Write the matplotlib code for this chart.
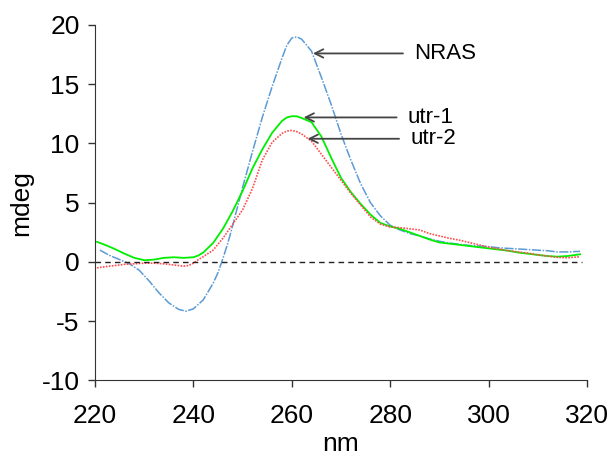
import matplotlib
matplotlib.use("Agg")
import matplotlib.pyplot as plt

# CD spectra (wavelength in nm, signal in mdeg)
nras_nm = [221, 223, 225, 227, 229, 231, 233, 235, 237, 238.5, 240, 242, 244, 245, 246, 247, 248,
           249, 250, 252, 254, 256, 258, 259, 260, 261, 262, 264, 266, 268, 270, 272, 274, 276,
           278, 280, 282, 284, 286, 288, 290, 292, 294, 296, 298, 300, 302, 304, 306, 308, 310,
           312, 314, 316, 318.6]
nras_mdeg = [1.0, 0.55, 0.2, -0.15, -0.7, -1.6, -2.6, -3.45, -4.0, -4.15, -3.95, -3.2, -1.8, -0.9,
             0.3, 1.6, 3.1, 4.7, 6.3, 9.3, 12.2, 14.8, 17.2, 18.3, 18.9, 19.0, 18.8, 17.8, 15.6,
             13.3, 10.8, 8.6, 6.6, 5.0, 3.9, 3.1, 2.7, 2.4, 2.2, 1.95, 1.75, 1.6, 1.5, 1.4, 1.35,
             1.3, 1.2, 1.15, 1.1, 1.05, 1.0, 0.95, 0.85, 0.85, 0.9]

utr1_nm = [220.4, 222, 224, 226, 228, 230, 232, 234, 236, 238, 240, 241, 242, 243, 244, 246, 248,
           250, 252, 254, 256, 258, 259, 260, 261, 262, 264, 266, 268, 270, 272, 274, 276, 278,
           280, 282, 284, 286, 288, 290, 292, 294, 296, 298, 300, 302, 304, 306, 308, 310, 312,
           314, 316, 318.6]
utr1_mdeg = [1.7, 1.45, 1.1, 0.7, 0.35, 0.15, 0.2, 0.35, 0.4, 0.35, 0.4, 0.55, 0.8, 1.2, 1.6, 2.8,
             4.3, 6.0, 7.9, 9.5, 10.9, 11.9, 12.2, 12.3, 12.3, 12.15, 11.8, 10.6, 8.8, 7.1, 5.9,
             4.9, 4.0, 3.3, 3.0, 2.8, 2.5, 2.2, 1.9, 1.65, 1.55, 1.45, 1.35, 1.25, 1.15, 1.05,
             0.95, 0.8, 0.7, 0.6, 0.5, 0.45, 0.5, 0.65]

utr2_nm = [220.4, 222, 224, 226, 228, 230, 232, 234, 236, 238, 239, 240, 241, 242, 244, 246, 248,
           250, 252, 254, 256, 258, 259, 260, 261, 262, 264, 266, 268, 270, 272, 274, 276, 278,
           280, 282, 284, 286, 288, 290, 292, 294, 296, 298, 300, 302, 304, 306, 308, 310, 312,
           314, 316, 318.6]
utr2_mdeg = [-0.5, -0.4, -0.3, -0.2, -0.15, -0.1, -0.1, -0.15, -0.25, -0.35, -0.3, -0.1, 0.2, 0.45,
             1.0, 2.0, 3.2, 4.4, 6.2, 8.6, 10.1, 10.85, 11.05, 11.1, 11.0, 10.8, 10.2, 9.1, 8.0,
             6.9, 5.8, 4.8, 3.8, 3.2, 2.95, 2.9, 2.8, 2.7, 2.4, 2.2, 2.0, 1.85, 1.65, 1.45, 1.25,
             1.1, 0.95, 0.85, 0.75, 0.6, 0.5, 0.4, 0.35, 0.45]

x_ticks = [220, 240, 260, 280, 300, 320]
y_ticks = [-10, -5, 0, 5, 10, 15, 20]

# label, arrow tip (x, y), text x
labels = [("NRAS", 264.3, 17.6, 284.9),
          ("utr-1", 262.4, 12.2, 283.6),
          ("utr-2", 263.2, 10.4, 284.1)]

plt.rcParams['font.family'] = ['Liberation Sans', 'DejaVu Sans']
plt.rcParams['axes.unicode_minus'] = False

fig = plt.figure(figsize=(6.11, 4.57), dpi=100)
ax = fig.add_axes([0.1555, 0.1674, 0.8052, 0.7779])

ax.plot(nras_nm, nras_mdeg, color='#5b9bd5', linewidth=1.1, dashes=(6, 1, 1, 1))
ax.plot(utr1_nm, utr1_mdeg, color='#00ee00', linestyle='-', linewidth=1.3)
ax.plot(utr2_nm, utr2_mdeg, color='#ff4d4d', linewidth=1.2, dashes=(1, 0.8))
ax.plot([220, 319], [0, 0], color='#222222', linewidth=1.0, dashes=(4, 3))

for name, tx, ty, lx in labels:
    ax.annotate('', xy=(tx, ty), xytext=(lx - 2.3, ty),
                arrowprops=dict(arrowstyle='->,head_length=0.6,head_width=0.3',
                                color='#444444', linewidth=1.3, shrinkA=0, shrinkB=0))
    ax.text(lx, ty, name, fontsize=16, va='center', ha='left', color='black')

ax.set_xlim(220, 320)
ax.set_ylim(-10, 20)
ax.set_xticks(x_ticks)
ax.set_yticks(y_ticks)
ax.tick_params(axis='both', labelsize=19, length=5, width=1, color='#333333', direction='out')
ax.tick_params(axis='x', pad=12)
ax.tick_params(axis='y', pad=6)
ax.spines['top'].set_visible(False)
ax.spines['right'].set_visible(False)
ax.spines['left'].set_color('#333333')
ax.spines['bottom'].set_color('#333333')

ax.set_xlabel('nm', fontsize=19, labelpad=3)
ax.set_ylabel('mdeg', fontsize=19, labelpad=6)

plt.savefig('out.png', dpi=100)
